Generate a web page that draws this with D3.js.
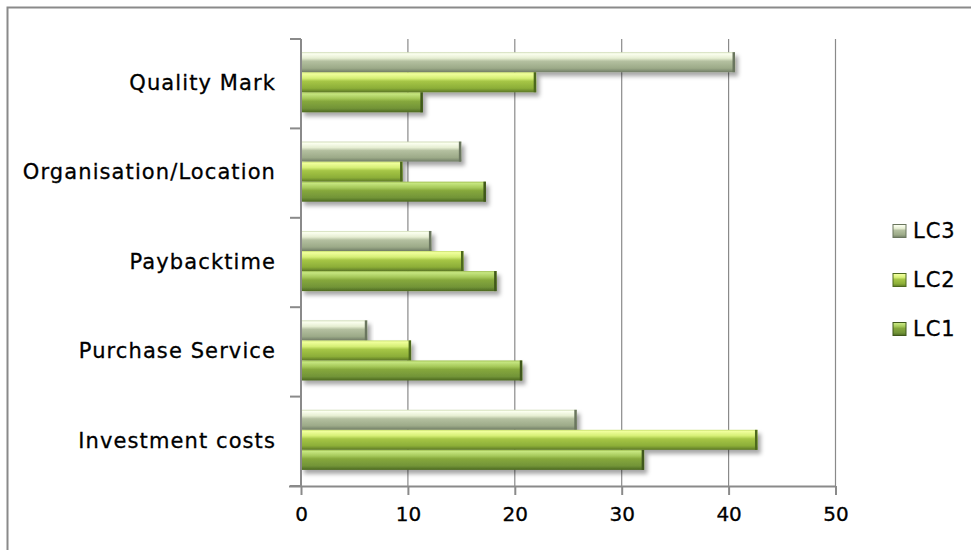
<!DOCTYPE html>
<html>
<head>
<meta charset="utf-8">
<script src="https://cdn.jsdelivr.net/npm/d3@7"></script>
<style>
	body { margin: 0; background: #fff; }
	text { font-family: "DejaVu Sans", sans-serif; fill: #000; stroke: #000; stroke-width: 0.3px; }
</style>
</head>
<body>
<div id="chart"></div>
<script>
// values
var categories = ["Investment costs", "Purchase Service", "Paybacktime", "Organisation/Location", "Quality Mark"]
var series = ["LC3", "LC2", "LC1"]
var lc1 = [32.1, 20.7, 18.3, 17.3, 11.4]
var lc2 = [42.7, 10.3, 15.2, 9.5, 22.0]
var lc3 = [25.8, 6.2, 12.2, 15.0, 40.6]
var ticks = [0, 10, 20, 30, 40, 50]

var data = categories.map((c, i) => ({ cat: c, LC1: lc1[i], LC2: lc2[i], LC3: lc3[i] }))

var width = 971, height = 550

var svg = d3.select("#chart").append("svg")
	.attr("width", width)
	.attr("height", height)

// gradients for the bevelled bars
var stops = {
	LC3: [["0", "#cbd8b0"], ["0.08", "#fbfff0"], ["0.3", "#e6eed2"], ["0.45", "#b4c0a0"], ["0.8", "#9caa88"], ["1", "#717d66"]],
	LC2: [["0", "#c6de6c"], ["0.08", "#f0ff9c"], ["0.3", "#d6ef76"], ["0.45", "#a6c646"], ["0.8", "#8cae38"], ["1", "#5c7826"]],
	LC1: [["0", "#9cbc4e"], ["0.08", "#c6e680"], ["0.3", "#a6c95a"], ["0.45", "#86a83c"], ["0.8", "#729438"], ["1", "#4c6820"]]
}
var edge = { LC3: "#6a765e", LC2: "#4e6a1e", LC1: "#3f581a" }

var defs = svg.append("defs")
series.forEach(function (s) {
	var g = defs.append("linearGradient")
		.attr("id", "grad-" + s)
		.attr("x1", 0).attr("y1", 0).attr("x2", 0).attr("y2", 1)
	stops[s].forEach(function (st) {
		g.append("stop").attr("offset", st[0]).attr("stop-color", st[1])
	})
})
defs.append("filter")
	.attr("id", "shadow")
	.attr("x", "-5%").attr("y", "-30%").attr("width", "115%").attr("height", "190%")
	.append("feDropShadow")
	.attr("dx", 3).attr("dy", 4).attr("stdDeviation", 2.2)
	.attr("flood-color", "#000").attr("flood-opacity", 0.35)

// outer frame
svg.append("path")
	.attr("d", "M7.5,550V7.5H971")
	.attr("fill", "none")
	.attr("stroke", "#8a8a8a")
	.attr("stroke-width", 2)

var x = d3.scaleLinear()
	.domain([0, 50])
	.range([301, 835.5])

var y = d3.scaleBand()
	.domain(categories.slice().reverse())
	.range([39, 486])

var inner = d3.scaleBand()
	.domain(series)
	.range([0, y.bandwidth()])
	.paddingOuter(0.73)
	.align(0.45)

// vertical gridlines
svg.append("g")
	.selectAll("line")
	.data(ticks.slice(1))
	.enter().append("line")
	.attr("x1", d => x(d)).attr("x2", d => x(d))
	.attr("y1", 39).attr("y2", 486)
	.attr("stroke", "#8a8a8a")
	.attr("stroke-width", 1.2)

// bars
var groups = svg.append("g").selectAll("g")
	.data(data)
	.enter().append("g")
	.attr("transform", d => `translate(0,${y(d.cat)})`)

series.forEach(function (s) {
	var bar = groups.append("g")
		.attr("filter", "url(#shadow)")
	bar.append("rect")
		.attr("x", x(0))
		.attr("y", inner(s))
		.attr("width", d => x(d[s]) - x(0))
		.attr("height", inner.bandwidth())
		.attr("fill", "url(#grad-" + s + ")")
	bar.append("rect")
		.attr("x", d => x(d[s]) - 2.5)
		.attr("y", inner(s))
		.attr("width", 2.5)
		.attr("height", inner.bandwidth())
		.attr("fill", edge[s])
})

// axes
var xAxis = svg.append("g")
	.attr("transform", "translate(0,486)")
	.call(d3.axisBottom(x).tickValues(ticks).tickSize(9).tickPadding(12).tickSizeOuter(0))
xAxis.select(".domain").attr("d", "M289,0.5H835.5").attr("stroke", "#8a8a8a").attr("stroke-width", 2)
xAxis.selectAll(".tick line").attr("stroke", "#8a8a8a").attr("stroke-width", 2)
xAxis.selectAll(".tick text")
	.style("font-size", "20px")
	.style("font-family", "DejaVu Sans, sans-serif")
	.attr("fill", "#000")

var yAxis = svg.append("g")
	.attr("transform", "translate(301,0)")
yAxis.append("line")
	.attr("x1", 0).attr("x2", 0)
	.attr("y1", 39).attr("y2", 486)
	.attr("stroke", "#8a8a8a").attr("stroke-width", 2)
yAxis.selectAll(".ytick")
	.data(categories.slice().reverse().map(c => y(c)).concat([486]))
	.enter().append("line")
	.attr("class", "ytick")
	.attr("x1", -11).attr("x2", 0)
	.attr("y1", d => d).attr("y2", d => d)
	.attr("stroke", "#8a8a8a").attr("stroke-width", 2)

svg.append("g").selectAll("text")
	.data(categories)
	.enter().append("text")
	.attr("x", 276)
	.attr("y", d => y(d) + y.bandwidth() / 2 - 1)
	.attr("dy", "0.35em")
	.attr("text-anchor", "end")
	.style("font-size", "21px")
	.style("letter-spacing", "1.1px")
	.text(d => d)

// legend
var legend = svg.selectAll(".legend")
	.data(series)
	.enter().append("g")
	.attr("class", "legend")
	.attr("transform", (d, i) => `translate(893,${231 + i * 49})`)

legend.append("rect")
	.attr("x", 0).attr("y", -6.5)
	.attr("width", 13).attr("height", 13)
	.attr("fill", d => "url(#grad-" + d + ")")
	.attr("stroke", d => edge[d])
	.attr("stroke-width", 1)

legend.append("text")
	.attr("x", 20)
	.attr("dy", "0.35em")
	.style("font-size", "21px")
	.style("letter-spacing", "1px")
	.text(d => d)
</script>
</body>
</html>
